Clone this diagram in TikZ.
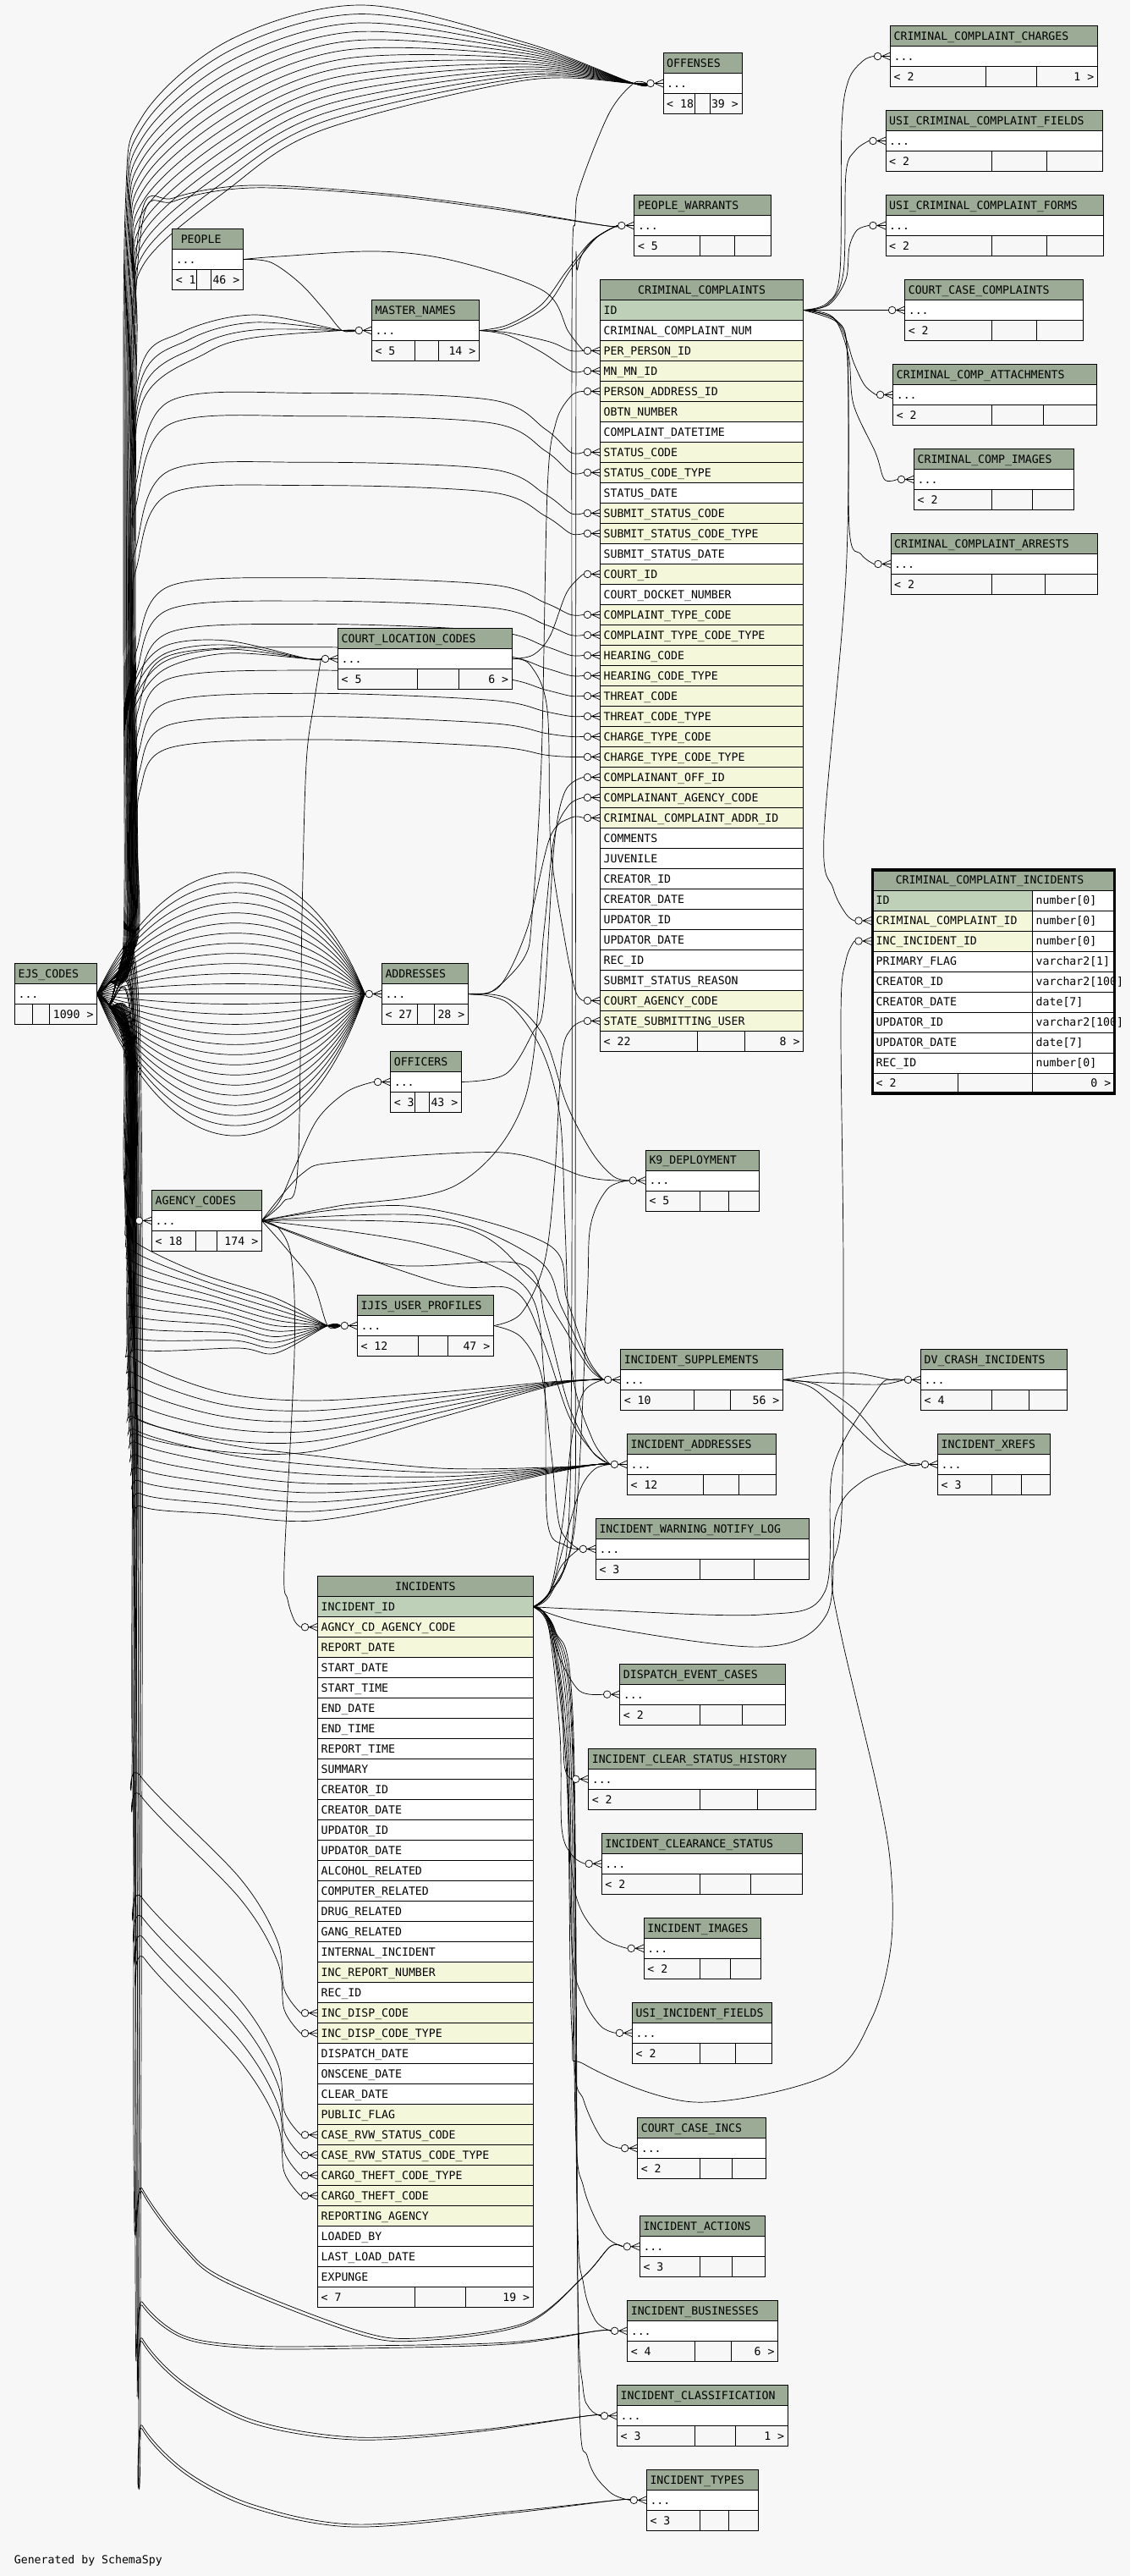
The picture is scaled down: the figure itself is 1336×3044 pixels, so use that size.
\documentclass[tikz,border=0pt]{standalone}
\usepackage{fontspec}
\setmonofont{DejaVu Sans Mono}
\usetikzlibrary{calc}
\definecolor{bg}{HTML}{F7F7F7}
\definecolor{hdr}{HTML}{9BAB96}
\definecolor{pk}{HTML}{BED1B8}
\definecolor{fk}{HTML}{F4F7DA}
\pgfdeclarelayer{back}
\pgfdeclarelayer{edges}
\pgfsetlayers{back,edges,main}
\newcommand\mono{\ttfamily\fontsize{13.2}{14}\selectfont}
\tikzset{
 tl/.style={draw=black,line width=1pt},
 txt/.style={anchor=west,inner sep=0pt,text height=9.6pt,text depth=0pt,font=\mono},
 rtxt/.style={txt,anchor=east},
 ctxt/.style={txt,anchor=center},
 edge/.style={draw=black,line width=0.7pt},
}
\newcommand\E[1]{\draw[edge] plot[smooth,tension=0.55] coordinates {#1};}
\newcommand\mtab[9]{%
 \fill[hdr] (#2,#4) rectangle (#3,#4+24);
 \fill[white] (#2,#4+24) rectangle (#3,#4+48);
 \fill[bg] (#2,#4+48) rectangle (#3,#4+72);
 \draw[tl] (#2,#4) rectangle (#3,#4+72);
 \draw[tl] (#2,#4+24) -- (#3,#4+24) (#2,#4+48) -- (#3,#4+48) (#7,#4+48) -- (#7,#4+72) (#8,#4+48) -- (#8,#4+72);
 \node[txt] (#1-h) at (#2+4,#4+12) {#5};
 \node[txt] (#1-d) at (#2+4,#4+36) {...};
 \node[txt] (#1-l) at (#2+4,#4+60) {#6};
 \node[rtxt] (#1-r) at (#3-4,#4+60) {#9};
 \coordinate (#1) at (#2,#4+36);
 \coordinate (#1E) at (#3,#4+36);
 \coordinate (#1-in) at (#2-20,#4+36);
 \coordinate (#1-pre) at (#2-35,#4+36);
}
\newcommand\crow[1]{%
 \draw[edge] ($(#1)+(-20,0)$) -- (#1) ($(#1)+(-10,0)$) -- ($(#1)+(0,4.5)$) ($(#1)+(-10,0)$) -- ($(#1)+(0,-4.5)$);
 \filldraw[edge,fill=bg] ($(#1)+(-15,0)$) circle[radius=4.3pt];
}
\begin{document}
\begin{tikzpicture}[x=1pt,y=-1pt]
\useasboundingbox (0,0) rectangle (1336,3044);
\begin{pgfonlayer}{back}
\fill[bg] (0,0) rectangle (1336,3044);
\end{pgfonlayer}

% ---------------- small tables
\mtab{ccc}{1052.5}{1297.5}{30.5}{CRIMINAL\_COMPLAINT\_CHARGES}{< 2}{1165.8}{1225.8}{1 >}
\mtab{usif}{1047}{1303.5}{130.5}{USI\_CRIMINAL\_COMPLAINT\_FIELDS}{< 2}{1172.4}{1237.6}{}
\mtab{usifo}{1047}{1304.5}{230.5}{USI\_CRIMINAL\_COMPLAINT\_FORMS}{< 2}{1172.4}{1237.6}{}
\mtab{cccom}{1069.6}{1280.4}{330.5}{COURT\_CASE\_COMPLAINTS}{< 2}{1172.4}{1225.8}{}
\mtab{att}{1055.6}{1296.6}{430.5}{CRIMINAL\_COMP\_ATTACHMENTS}{< 2}{1172.4}{1233.6}{}
\mtab{img}{1080.5}{1269.5}{530.5}{CRIMINAL\_COMP\_IMAGES}{< 2}{1172.4}{1220.5}{}
\mtab{arr}{1053}{1297.5}{630.5}{CRIMINAL\_COMPLAINT\_ARRESTS}{< 2}{1172.4}{1235.4}{}
\mtab{offenses}{784}{877}{62.5}{OFFENSES}{< 18}{821.5}{839.4}{39 >}
\mtab{pw}{749.8}{911.6}{230.5}{PEOPLE\_WARRANTS}{< 5}{827.6}{868.3}{}
\mtab{people}{203.6}{287.5}{270.5}{\hspace*{6pt}PEOPLE}{< 1}{232.6}{249.5}{46 >}
\mtab{mn}{439.3}{566.5}{354.5}{MASTER\_NAMES}{< 5}{490.6}{518.7}{14 >}
\mtab{clc}{399.5}{605.3}{742.5}{COURT\_LOCATION\_CODES}{< 5}{493.7}{542.4}{6 >}
\mtab{ejs}{17.4}{114.7}{1138.5}{EJS\_CODES}{}{38.4}{58.5}{1090 >}
\mtab{addr}{451.3}{553.5}{1138.5}{ADDRESSES}{< 27}{493.7}{513.4}{28 >}
\mtab{officers}{461.6}{545.5}{1242.5}{OFFICERS}{< 3}{490.6}{507.6}{43 >}
\mtab{agency}{179.5}{309.4}{1406.4}{AGENCY\_CODES}{< 18}{231.2}{256.2}{174 >}
\mtab{k9}{763.3}{897.6}{1359}{K9\_DEPLOYMENT}{< 5}{827.6}{861.3}{}
\mtab{ijis}{422.3}{583.5}{1530.5}{IJIS\_USER\_PROFILES}{< 12}{494.6}{529.4}{47 >}
\mtab{is}{733.6}{925.6}{1594.4}{INCIDENT\_SUPPLEMENTS}{< 10}{820.6}{863.5}{56 >}
\mtab{iad}{741.4}{917.3}{1694.4}{INCIDENT\_ADDRESSES}{< 12}{831.6}{873.6}{}
\mtab{iwnl}{704.3}{956.3}{1794.4}{INCIDENT\_WARNING\_NOTIFY\_LOG}{< 3}{827.6}{891.5}{}
\mtab{dec}{732.7}{928.3}{1966.2}{DISPATCH\_EVENT\_CASES}{< 2}{827.6}{877.5}{}
\mtab{dv}{1088.4}{1261.2}{1594.4}{DV\_CRASH\_INCIDENTS}{< 4}{1172.4}{1216.6}{}
\mtab{xr}{1108.5}{1241.5}{1694.4}{INCIDENT\_XREFS}{< 3}{1172.4}{1207.4}{}
\mtab{icsh}{695.6}{964.3}{2066.3}{INCIDENT\_CLEAR\_STATUS\_HISTORY}{< 2}{827.3}{895.6}{}
\mtab{ics}{711.2}{948.7}{2166.3}{INCIDENT\_CLEARANCE\_STATUS}{< 2}{827.3}{887.6}{}
\mtab{ii}{761.2}{899.6}{2266.3}{INCIDENT\_IMAGES}{< 2}{827.3}{863.5}{}
\mtab{uif}{747.4}{912.6}{2366.3}{USI\_INCIDENT\_FIELDS}{< 2}{827.3}{869.7}{}
\mtab{ccinc}{753.6}{905.4}{2502.5}{COURT\_CASE\_INCS}{< 2}{827.3}{865.3}{}
\mtab{iact}{756.3}{904.5}{2618.7}{INCIDENT\_ACTIONS}{< 3}{827.3}{865.3}{}
\mtab{ibus}{741.6}{919.7}{2718.3}{INCIDENT\_BUSINESSES}{< 4}{821.5}{864.4}{6 >}
\mtab{icl}{729.5}{931.3}{2818.7}{INCIDENT\_CLASSIFICATION}{< 3}{821.5}{869.7}{1 >}
\mtab{ity}{764.3}{896.5}{2918.3}{INCIDENT\_TYPES}{< 3}{827.3}{861.2}{}

% ---------------- CRIMINAL_COMPLAINTS
\filldraw[fill=hdr,tl] (709.5,330.4) rectangle (949.7,354.4);
\node[ctxt] (cch) at (829.6,342.4) {CRIMINAL\_COMPLAINTS};
\foreach \rt/\rc [count=\i from 0] in {ID/pk, CRIMINAL\_COMPLAINT\_NUM/white, PER\_PERSON\_ID/fk, MN\_MN\_ID/fk, PERSON\_ADDRESS\_ID/fk, OBTN\_NUMBER/fk, COMPLAINT\_DATETIME/white, STATUS\_CODE/fk, STATUS\_CODE\_TYPE/fk, STATUS\_DATE/white, SUBMIT\_STATUS\_CODE/fk, SUBMIT\_STATUS\_CODE\_TYPE/fk, SUBMIT\_STATUS\_DATE/white, COURT\_ID/fk, COURT\_DOCKET\_NUMBER/white, COMPLAINT\_TYPE\_CODE/fk, COMPLAINT\_TYPE\_CODE\_TYPE/fk, HEARING\_CODE/fk, HEARING\_CODE\_TYPE/fk, THREAT\_CODE/fk, THREAT\_CODE\_TYPE/fk, CHARGE\_TYPE\_CODE/fk, CHARGE\_TYPE\_CODE\_TYPE/fk, COMPLAINANT\_OFF\_ID/fk, COMPLAINANT\_AGENCY\_CODE/fk, CRIMINAL\_COMPLAINT\_ADDR\_ID/fk, COMMENTS/white, JUVENILE/white, CREATOR\_ID/white, CREATOR\_DATE/white, UPDATOR\_ID/white, UPDATOR\_DATE/white, REC\_ID/white, SUBMIT\_STATUS\_REASON/white, COURT\_AGENCY\_CODE/fk, STATE\_SUBMITTING\_USER/fk}{
 \filldraw[fill=\rc,tl] (709.5,{354.4+24*\i}) rectangle (949.7,{378.4+24*\i});
 \node[txt] (cct\i) at (713.5,{366.4+24*\i}) {\rt};
 \coordinate (cc\i) at (709.5,{366.4+24*\i});
 \coordinate (cc\i-in) at (689.5,{366.4+24*\i});
 \coordinate (cc\i-pre) at (674.5,{366.4+24*\i});
}
\coordinate (ccE) at (949.7,366.4);
\filldraw[fill=bg,tl] (709.5,1218.4) rectangle (949.7,1242.4);
\draw[tl] (824.6,1218.4) -- (824.6,1242.4) (880.6,1218.4) -- (880.6,1242.4);
\node[txt] (ccfl) at (713.5,1230.4) {< 22};
\node[rtxt] (ccfr) at (945.7,1230.4) {8 >};

% ---------------- INCIDENTS
\filldraw[fill=hdr,tl] (375.5,1862.7) rectangle (630.3,1886.7);
\node[ctxt] (inch) at (502.9,1874.7) {INCIDENTS};
\foreach \rt/\rc [count=\i from 0] in {INCIDENT\_ID/pk, AGNCY\_CD\_AGENCY\_CODE/fk, REPORT\_DATE/fk, START\_DATE/white, START\_TIME/white, END\_DATE/white, END\_TIME/white, REPORT\_TIME/white, SUMMARY/white, CREATOR\_ID/white, CREATOR\_DATE/white, UPDATOR\_ID/white, UPDATOR\_DATE/white, ALCOHOL\_RELATED/white, COMPUTER\_RELATED/white, DRUG\_RELATED/white, GANG\_RELATED/white, INTERNAL\_INCIDENT/white, INC\_REPORT\_NUMBER/fk, REC\_ID/white, INC\_DISP\_CODE/fk, INC\_DISP\_CODE\_TYPE/fk, DISPATCH\_DATE/white, ONSCENE\_DATE/white, CLEAR\_DATE/white, PUBLIC\_FLAG/fk, CASE\_RVW\_STATUS\_CODE/fk, CASE\_RVW\_STATUS\_CODE\_TYPE/fk, CARGO\_THEFT\_CODE\_TYPE/fk, CARGO\_THEFT\_CODE/fk, REPORTING\_AGENCY/fk, LOADED\_BY/white, LAST\_LOAD\_DATE/white, EXPUNGE/white}{
 \filldraw[fill=\rc,tl] (375.5,{1886.7+24*\i}) rectangle (630.3,{1910.7+24*\i});
 \node[txt] (inct\i) at (379.5,{1898.7+24*\i}) {\rt};
 \coordinate (inc\i) at (375.5,{1898.7+24*\i});
 \coordinate (inc\i-in) at (355.5,{1898.7+24*\i});
}
\coordinate (incE) at (630.3,1898.7);
\filldraw[fill=bg,tl] (375.5,2702.7) rectangle (630.3,2726.7);
\draw[tl] (490.3,2702.7) -- (490.3,2726.7) (550.5,2702.7) -- (550.5,2726.7);
\node[txt] (incfl) at (379.5,2714.7) {< 7};
\node[rtxt] (incfr) at (626.3,2714.7) {19 >};

% ---------------- CRIMINAL_COMPLAINT_INCIDENTS
\fill[hdr] (1031.5,1028) rectangle (1317.5,1052);
\node[ctxt] (ccih) at (1170,1040) {CRIMINAL\_COMPLAINT\_INCIDENTS};
\foreach \rt/\rc/\ty [count=\i from 0] in {ID/pk/number[0], CRIMINAL\_COMPLAINT\_ID/fk/number[0], INC\_INCIDENT\_ID/fk/number[0], PRIMARY\_FLAG/white/varchar2[1], CREATOR\_ID/white/varchar2[100], CREATOR\_DATE/white/date[7], UPDATOR\_ID/white/varchar2[100], UPDATOR\_DATE/white/date[7], REC\_ID/white/number[0]}{
 \filldraw[fill=\rc,tl] (1031.5,{1052+24*\i}) rectangle (1220.5,{1076+24*\i});
 \filldraw[fill=white,tl] (1220.5,{1052+24*\i}) rectangle (1317.5,{1076+24*\i});
 \node[txt] (ccin\i) at (1035.5,{1064+24*\i}) {\rt};
 \node[txt] (ccit\i) at (1224.5,{1064+24*\i}) {\ty};
}
\filldraw[fill=bg,tl] (1031.5,1268) rectangle (1317.5,1292);
\draw[tl] (1132.6,1268) -- (1132.6,1292) (1220.5,1268) -- (1220.5,1292);
\node[txt] (ccifl) at (1035.5,1280) {< 2};
\node[rtxt] (ccifr) at (1313.5,1280) {0 >};
\draw[line width=3.5pt] (1031.5,1028) rectangle (1317.5,1292);
\coordinate (cci1) at (1030,1088);
\coordinate (cci2) at (1030,1112);
\coordinate (cci1-in) at (1010,1088);
\coordinate (cci2-in) at (1010,1112);

\node[txt] (gen) at (16.7,3025) {Generated by SchemaSpy};

% ---------------- edges
\begin{pgfonlayer}{edges}
% EJS -> OFFENSES
\foreach \k in {0,...,14}{
 \pgfmathsetmacro\pp{\k/14}
 \E{(ejsE) (128,1162) ({146+\k},1110) ({146+\k},700) ({148+\k},{250+150*\pp}) ({168+2*\pp},{138+174*\pp}) ({272-4*\pp},{47+178*\pp}) ({428-48*\pp},{6+148*\pp}) (620,{50+45*\pp}) (offenses-pre) (offenses-in)}
}
% EJS -> PEOPLE_WARRANTS
\foreach \k in {0,1}{
 \E{(ejsE) (128,1162) ({150+3*\k},1110) ({150+3*\k},600) ({165+2*\k},{265+6*\k}) (205,{234+4*\k}) (297,{219+3*\k}) (446,{228+2*\k}) (585,{245+2*\k}) (pw-pre) (pw-in)}
}
% EJS -> MASTER_NAMES
\foreach \k in {0,...,3}{
 \E{(ejsE) (128,1162) ({152+2*\k},1110) ({152+2*\k},650) ({165+\k},{440+12*\k}) ({214+10*\k},{393+8*\k}) (300,{372+9*\k}) (mn-pre) (mn-in)}
}
% EJS -> CRIMINAL_COMPLAINTS code columns
\foreach \r [count=\j from 0] in {7,8,10,11,15,16,17,18,19,20,21,22}{
 \pgfmathsetmacro\yr{366.4+24*\r}
 \pgfmathsetmacro\yp{\yr-70+(\r-7)*3.3}
 \E{(ejsE) (128,1162) ({154+\j*0.8},1110) ({154+\j*0.8},{\yr+110}) ({160+\j*0.5},{\yr+40}) (200,{\yp+10}) (366,\yp) (580,{\yp+8}) (645,{(\yp+\yr)/2+8}) (cc\r-pre) (cc\r-in)}
}
% EJS -> COURT_LOCATION_CODES
\foreach \k in {0,...,3}{
 \E{(ejsE) (128,1162) ({150+2*\k},1110) ({150+2*\k},{880-8*\k}) (162,{830-10*\k}) (196,{790-9*\k}) (268,{772-5*\k}) (clc-pre) (clc-in)}
}
% EJS -> ADDRESSES (lens)
\foreach \d in {-144,-132,...,168}{
 \draw[edge] (ejsE) .. controls (205,{1174.5+1.33*\d}) and (355,{1174.5+1.33*\d}) .. (addr-in);
}
% EJS -> AGENCY_CODES
\foreach \k in {0,...,11}{
 \E{(ejsE) (128,1187) ({146+1.2*\k},1240) ({146+1.2*\k},{1380+3*\k}) ({152+0.5*\k},1432) (agency-in)}
}
% EJS -> IJIS_USER_PROFILES
\foreach \k in {0,...,10}{
 \E{(ejsE) (128,1187) ({148+0.9*\k},1240) ({148+0.9*\k},{1435+13*\k}) ({156+0.9*\k},{1465+13*\k}) ({232+5*\k},{1503+9*\k}) (326,{1534+6.5*\k}) (ijis-pre) (ijis-in)}
}
% EJS -> INCIDENT_SUPPLEMENTS
\foreach \k in {0,...,5}{
 \E{(ejsE) (128,1187) ({150+\k},1240) ({150+\k},{1570+18*\k}) ({158+\k},{1605+18*\k}) (260,{1645+14*\k}) (370,{1655+12*\k}) (520,{1645+6*\k}) (650,{1633+\k}) (is-pre) (is-in)}
}
% EJS -> INCIDENT_ADDRESSES
\foreach \k in {0,...,7}{
 \E{(ejsE) (128,1187) ({152+\k},1240) ({152+\k},{1640+15*\k}) ({160+\k},{1675+15*\k}) (260,{1705+12*\k}) (370,{1720+11*\k}) (520,{1735+5*\k}) (650,{1734+\k}) (iad-pre) (iad-in)}
}
% EJS -> INCIDENTS code columns
\foreach \r [count=\j from 0] in {20,21,26,27,28,29}{
 \pgfmathsetmacro\yr{1898.7+24*\r}
 \E{(ejsE) (128,1187) ({156+\j},1240) ({156+\j},{\yr-330}) ({166+\j},{\yr-280}) (283,{\yr-160}) (328,{\yr-85}) (336,{\yr-28}) (inc\r-in)}
}
% EJS -> lower incident tables
\foreach \k in {0,1}{
 \E{(ejsE) (128,1187) ({158+2*\k},1240) ({158+2*\k},2540) (168,{2586+4*\k}) (217,{2653+4*\k}) (267,{2693+4*\k}) (420,{2753+4*\k}) (495,{2763+3*\k}) (620,{2745+2*\k}) (690,2690) (iact-pre) (iact-in)}
 \E{(ejsE) (128,1187) ({160+2*\k},1240) ({160+2*\k},2680) (168,{2720+4*\k}) (217,{2760+3*\k}) (300,{2772+3*\k}) (420,{2772+3*\k}) (600,{2768+2*\k}) (ibus-pre) (ibus-in)}
 \E{(ejsE) (128,1187) ({162+2*\k},1240) ({162+2*\k},2720) (168,{2763+4*\k}) (217,{2815+4*\k}) (300,{2860+4*\k}) (420,{2880+3*\k}) (560,{2872+2*\k}) (icl-pre) (icl-in)}
 \E{(ejsE) (128,1187) ({164+2*\k},1240) ({164+2*\k},2820) (168,{2866+4*\k}) (220,{2920+4*\k}) (300,{2960+4*\k}) (420,{2983+3*\k}) (600,{2968+2*\k}) (ity-pre) (ity-in)}
}
% PEOPLE, MASTER_NAMES
\E{(peopleE) (320,310) (355,335) (385,368) (mn-pre) (mn-in)}
\E{(peopleE) (330,303) (446,297) (536,308) (643,344) (672,392) (cc2-in)}
\E{(mnE) (600,384) (640,360) (670,320) (700,284) (pw-in)}
\E{(mnE) (598,388) (645,362) (675,318) (705,281) (pw-in)}
\E{(mnE) (600,393) (650,404) (cc2-pre) (cc2-in)}
\E{(mnE) (600,396) (640,416) (cc3-pre) (cc3-in)}
% ADDRESSES
\E{(addrE) (582,1171) (620,1131) (629,1082) (640,900) (647,580) (657,500) (675,468) (cc4-in)}
\E{(addrE) (590,1166) (623,1098) (650,990) (cc25-pre) (cc25-in)}
\E{(addrE) (600,1180) (643,1225) (670,1305) (700,1362) (725,1390) (k9-in)}
\E{(addrE) (600,1185) (640,1240) (662,1320) (668,1450) (676,1619) (700,1700) (iad-in)}
% OFFICERS
\E{(officersE) (598,1269) (630,1220) (643,1184) (655,1000) (668,935) (cc23-in)}
% AGENCY_CODES
\E{(agencyE) (330,1420) (348,1380) (375,1323) (410,1290) (officers-in)}
\E{(agencyE) (335,1420) (352,1380) (357,1082) (362,903) (371,832) (clc-in)}
\E{(agencyE) (330,1452) (345,1490) (348,1600) (336,1850) (340,1890) (348,1915) (inc1-in)}
\E{(agencyE) (400,1425) (540,1400) (620,1300) (643,1100) (655,990) (672,952) (cc24-in)}
\E{(agencyE) (357,1387) (402,1373) (594,1362) (690,1390) (k9-pre) (k9-in)}
\E{(agencyE) (339,1476) (370,1516) (ijis-pre) (ijis-in)}
\foreach \k in {0,1,2}{
 \E{(agencyE) ({480+30*\k},{1425+12*\k}) ({647-12*\k},{1470+18*\k}) ({670-6*\k},{1535+10*\k}) (695,{1605+5*\k}) (is-in)}
}
\foreach \k in {0,1}{
 \E{(agencyE) ({460+60*\k},{1494+22*\k}) ({616-10*\k},{1494+30*\k}) ({645-5*\k},{1560+20*\k}) (672,{1660+12*\k}) (700,1715) (iad-in)}
}
\E{(agencyE) (500,1470) (620,1520) (643,1623) (647,1797) (668,1826) (iwnl-in)}
% IJIS
\E{(ijisE) (616,1552) (643,1494) (655,1400) (664,1250) (675,1216) (cc35-in)}
\E{(ijisE) (616,1580) (640,1625) (652,1720) (662,1805) (iwnl-in)}
% COURT_LOCATION_CODES
\E{(clcE) (630,774) (650,752) (670,700) (cc13-in)}
\E{(clcE) (627,786) (647,839) (651,1000) (667,1107) (680,1170) (cc34-in)}
% CRIMINAL_COMPLAINTS children
\E{(ccE) (978,358) (993,320) (995,150) (1003,95) (1020,72) (ccc-in)}
\E{(ccE) (978,360) (997,322) (1000,205) (1011,178) (usif-in)}
\E{(ccE) (980,360) (1000,330) (1004,292) (1013,272) (usifo-in)}
\draw[edge] (ccE) -- (cccom-in);
\E{(ccE) (987,379) (1000,400) (1009,428) (1022,455) (att-in)}
\E{(ccE) (985,375) (1003,420) (1009,478) (1035,535) (img-pre) (img-in)}
\E{(ccE) (988,378) (1002,420) (1004,625) (1018,655) (arr-in)}
\E{(ccE) (990,380) (1002,430) (1000,680) (974,988) (985,1050) (1000,1080) (cci1-in)}
% INCIDENTS children
\E{(incE) (650,1880) (671,1820) (676,1500) (676,400) (680,260) (686,219) (720,134) (offenses-pre) (offenses-in)}
\E{(incE) (652,1882) (678,1800) (680,1500) (681,400) (683,317) (700,285) (pw-in)}
\E{(incE) (655,1875) (680,1800) (694,1538) (698,1449) (718,1405) (k9-in)}
\E{(incE) (650,1880) (665,1800) (676,1700) (690,1645) (is-in)}
\E{(incE) (650,1882) (668,1820) (686,1760) (703,1736) (iad-in)}
\E{(incE) (648,1885) (664,1850) (iwnl-in)}
\E{(incE) (648,1915) (662,1960) (685,1998) (dec-in)}
\E{(incE) (647,1918) (664,2000) (667,2085) (icsh-in)}
\E{(incE) (648,1920) (662,2050) (664,2160) (676,2192) (ics-in)}
\E{(incE) (650,1920) (668,2050) (675,2200) (686,2255) (712,2290) (ii-in)}
\E{(incE) (651,1921) (670,2050) (676,2300) (690,2362) (710,2394) (uif-in)}
\E{(incE) (652,1922) (672,2050) (678,2420) (690,2482) (712,2528) (ccinc-in)}
\E{(incE) (653,1923) (674,2050) (680,2500) (690,2585) (714,2640) (iact-in)}
\E{(incE) (654,1924) (676,2050) (682,2600) (690,2700) (704,2742) (ibus-in)}
\E{(incE) (655,1925) (677,2050) (683,2700) (689,2820) (697,2846) (icl-in)}
\E{(incE) (656,1926) (678,2050) (684,2800) (695,2905) (720,2944) (ity-in)}
\E{(incE) (700,1902) (900,1908) (975,1881) (985,1734) (1037,1642) (dv-pre) (dv-in)}
\E{(incE) (700,1920) (900,1946) (977,1908) (988,1792) (1020,1750) (xr-pre) (xr-in)}
\E{(incE) (650,1925) (670,2100) (676,2400) (692,2440) (821,2484) (977,2453) (1030,2386) (1053,2301) (1053,2207) (1037,2113) (995,1935) (983,1859) (995,1787) (997,1500) (994,1200) (1000,1135) (cci2-in)}
% INCIDENT_SUPPLEMENTS children
\E{(isE) (1000,1622) (dv-pre) (dv-in)}
\E{(isE) (975,1634) (1040,1636) (dv-in)}
\E{(isE) (965,1636) (1010,1665) (1045,1705) (xr-pre) (xr-in)}
\E{(isE) (960,1640) (1000,1675) (1040,1712) (xr-pre) (xr-in)}
\end{pgfonlayer}

% ---------------- crow's feet
\foreach \n in {offenses,pw,mn,clc,addr,officers,agency,k9,ijis,is,iad,iwnl,dec,dv,xr,icsh,ics,ii,uif,ccinc,iact,ibus,icl,ity,ccc,usif,usifo,cccom,att,img,arr,cci1,cci2}{\crow{\n}}
\foreach \r in {2,3,4,7,8,10,11,13,15,16,17,18,19,20,21,22,23,24,25,34,35}{\crow{cc\r}}
\foreach \r in {1,20,21,26,27,28,29}{\crow{inc\r}}
\end{tikzpicture}
\end{document}
